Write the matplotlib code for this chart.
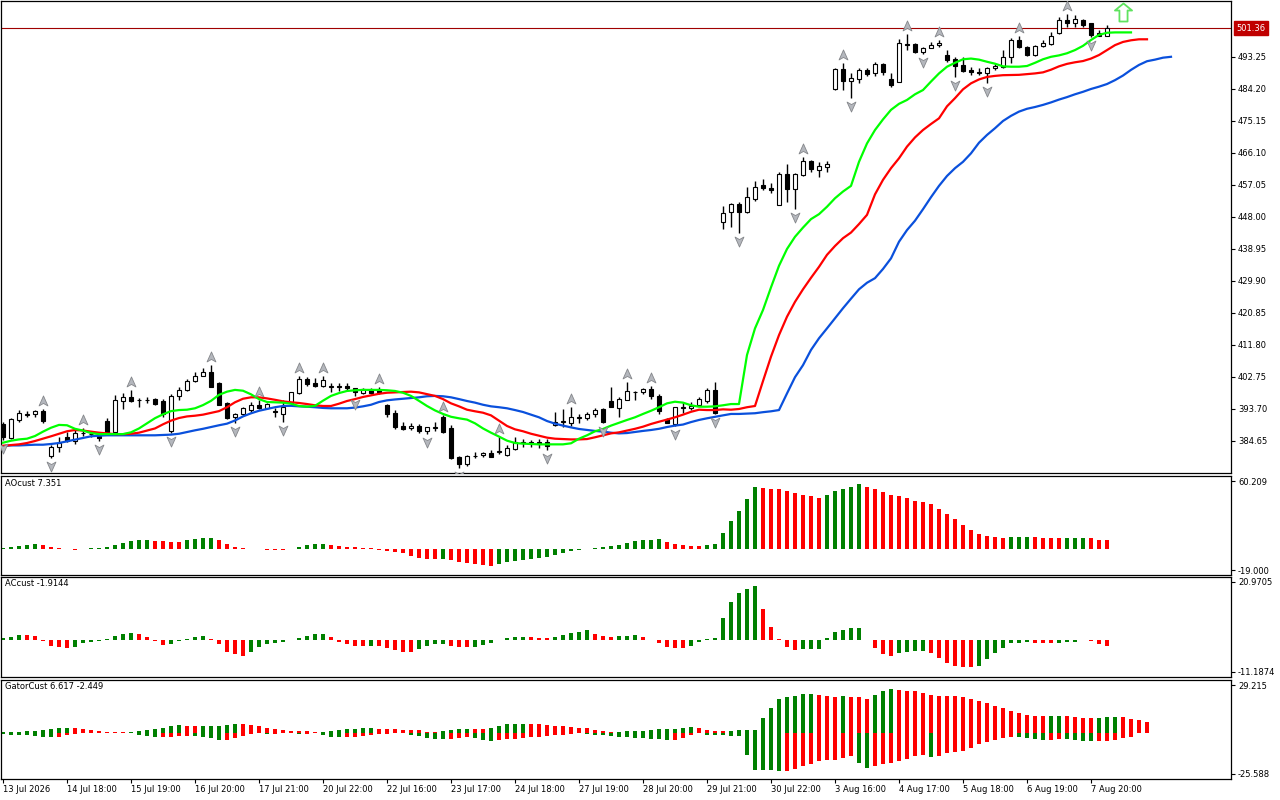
import numpy as np
import matplotlib
matplotlib.use("Agg")
import matplotlib.pyplot as plt
from matplotlib.path import Path
from matplotlib import transforms

# ---------------- data ----------------
opens = [389.46, 385.6, 390.59, 392.1, 392.3, 393.2, 380.5, 382.86, 385.7, 384.75,
         386.8, 386.5, 386.15, 390.3, 387.3, 396.05, 397.0, 396.2, 396.3, 396.5,
         395.96, 387.4, 397.4, 399.0, 401.5, 403.0, 404.2, 400.96, 395.3, 391.3,
         392.3, 393.4, 394.8, 394.1, 393.0, 392.3, 395.5, 398.1, 402.1, 401.1,
         400.2, 400.0, 400.1, 400.3, 399.5, 398.3, 399.1, 399.1, 394.8, 392.6,
         388.9, 388.3, 388.9, 387.6, 388.4, 391.35, 388.2, 380.0, 378.1, 380.3,
         380.7, 381.2, 381.6, 380.7, 382.5, 384.2, 384.3, 384.5, 384.3, 389.2,
         390.0, 389.7, 391.2, 391.05, 392.3, 393.6, 395.96, 394.05, 396.24, 398.5,
         398.6, 399.3, 397.4, 390.9, 389.4, 394.1, 393.9, 394.9, 395.96, 399.1,
         446.5, 449.4, 451.7, 449.4, 453.2, 457.0, 456.2, 451.4, 460.1, 455.8,
         459.8, 463.9, 461.3, 462.2, 484.2, 489.85, 486.55, 487.0, 489.6, 488.6,
         491.3, 487.0, 486.1, 496.8, 496.9, 494.75, 495.9, 496.65, 493.8, 492.6,
         491.0, 489.6, 489.1, 488.65, 490.05, 490.5, 493.15, 498.05, 496.15, 493.8,
         496.35, 496.9, 499.95, 503.7, 502.95, 503.7, 502.8, 500.0, 499.2]
highs = [390.0, 391.2, 393.42, 393.2, 393.4, 393.8, 383.5, 385.9, 387.3, 387.8,
         388.2, 387.2, 386.6, 391.07, 397.66, 398.3, 399.1, 396.9, 397.0, 396.8,
         396.4, 398.0, 400.0, 402.1, 404.2, 405.2, 406.1, 401.2, 395.6, 392.6,
         394.4, 395.6, 396.3, 395.5, 394.0, 396.2, 398.6, 403.0, 402.8, 402.5,
         402.9, 401.1, 401.1, 401.1, 399.5, 399.5, 399.5, 400.0, 395.0, 393.4,
         390.1, 389.7, 389.5, 388.5, 390.0, 391.9, 389.2, 380.4, 380.8, 381.6,
         381.6, 382.2, 385.9, 383.5, 385.7, 385.3, 385.0, 385.3, 385.3, 392.9,
         393.6, 394.3, 392.3, 392.9, 393.9, 393.9, 400.0, 397.2, 401.4, 398.8,
         399.5, 400.1, 397.9, 391.1, 394.4, 395.8, 395.8, 397.2, 399.6, 401.4,
         451.1, 452.05, 452.3, 456.4, 458.2, 458.7, 457.6, 460.6, 463.0, 460.35,
         464.9, 464.1, 463.6, 463.9, 490.1, 491.5, 488.8, 490.05, 490.05, 491.8,
         491.6, 488.8, 498.2, 499.7, 497.3, 496.2, 497.6, 497.95, 495.2, 493.2,
         493.2, 490.3, 490.05, 490.5, 491.3, 495.2, 498.5, 499.3, 496.4, 496.65,
         497.95, 500.2, 504.5, 505.4, 505.1, 504.1, 502.95, 500.9, 502.3]
lows = [385.0, 385.3, 390.11, 391.5, 391.5, 389.7, 379.8, 381.6, 384.5, 383.8,
        386.0, 385.9, 384.7, 387.0, 387.3, 393.6, 395.7, 394.2, 395.5, 394.7,
        391.5, 387.0, 396.2, 398.8, 401.2, 402.9, 400.0, 394.8, 390.8, 389.7,
        391.8, 392.5, 393.6, 393.8, 391.5, 390.0, 395.3, 397.9, 400.1, 399.8,
        399.9, 398.6, 398.9, 398.9, 397.5, 398.0, 397.8, 398.0, 391.5, 388.0,
        387.8, 387.8, 387.0, 386.5, 387.4, 387.0, 379.5, 377.0, 377.5, 379.8,
        380.1, 380.1, 381.0, 380.4, 382.2, 382.9, 382.9, 382.6, 382.0, 388.9,
        388.5, 389.0, 389.7, 390.7, 391.5, 389.8, 394.2, 391.35, 396.24, 396.24,
        397.9, 396.6, 392.3, 389.7, 388.8, 392.7, 393.3, 394.5, 395.3, 392.3,
        444.5, 445.25, 443.55, 449.05, 452.4, 455.55, 454.65, 451.4, 452.1, 450.2,
        459.6, 460.7, 459.3, 460.7, 483.9, 483.9, 481.6, 485.8, 487.9, 487.9,
        488.05, 484.65, 486.1, 495.1, 494.5, 494.2, 495.7, 496.2, 491.9, 487.5,
        488.9, 488.05, 488.05, 485.8, 489.6, 490.0, 491.6, 495.7, 493.4, 493.4,
        495.95, 496.6, 499.76, 501.6, 501.6, 501.8, 498.8, 499.1, 499.1]
closes = [385.7, 390.87, 392.48, 392.4, 393.1, 390.4, 382.9, 384.0, 384.65, 386.8,
          386.9, 386.6, 385.4, 387.3, 396.24, 397.2, 396.0, 396.3, 396.2, 395.1,
          392.3, 397.4, 399.1, 401.7, 403.0, 404.2, 400.0, 394.8, 391.1, 392.3,
          393.9, 394.8, 394.0, 395.0, 392.9, 394.4, 398.6, 402.1, 400.7, 400.15,
          401.9, 400.1, 400.0, 399.5, 398.6, 399.3, 398.2, 398.4, 392.3, 388.5,
          388.0, 388.9, 387.6, 388.5, 388.5, 387.3, 379.8, 378.1, 380.4, 380.5,
          381.3, 380.1, 381.8, 382.6, 384.3, 384.4, 384.2, 383.9, 383.2, 390.1,
          390.2, 391.35, 391.4, 392.3, 393.4, 390.0, 394.2, 396.5, 398.8, 398.6,
          399.3, 397.4, 393.0, 389.7, 394.2, 394.3, 394.5, 396.6, 399.1, 392.7,
          449.05, 451.6, 449.4, 453.55, 456.4, 456.2, 455.55, 460.1, 455.8, 460.1,
          463.9, 461.5, 462.3, 463.1, 489.85, 486.55, 487.2, 489.6, 488.45, 491.3,
          488.9, 485.3, 497.1, 496.6, 494.75, 495.7, 496.65, 497.3, 492.35, 490.8,
          489.3, 489.1, 488.8, 490.05, 490.7, 493.3, 498.05, 495.95, 493.8, 496.35,
          497.1, 499.19, 503.7, 502.95, 503.9, 502.3, 499.5, 499.2, 501.36]

lips = [384.17, 384.73, 385.1, 385.3, 386.06, 387.3, 388.4, 389.2, 389.1, 388.1,
        387.6, 386.9, 386.6, 386.6, 386.6, 386.6, 387.1, 388.2, 389.65, 391.1,
        392.2, 393.1, 393.4, 393.5, 393.9, 394.8, 396.0, 397.7, 398.6, 399.1,
        398.87, 397.85, 396.5, 395.68, 395.6, 395.5, 395.2, 394.55, 394.35, 394.6,
        396.05, 397.4, 398.2, 398.8, 398.99, 399.1, 399.1, 399.1, 399.0, 398.8,
        398.3, 397.4, 396.0, 394.55, 393.3, 392.3, 391.5, 391.07, 390.7, 389.65,
        388.2, 387.0, 385.9, 384.75, 384.08, 383.9, 383.8, 383.7, 383.7, 383.7,
        383.7, 384.0, 385.3, 386.26, 387.4, 388.05, 389.0, 389.8, 390.6, 391.35,
        392.3, 393.2, 394.2, 395.3, 395.76, 395.5, 394.75, 394.35, 394.35, 394.45,
        394.75, 395.1, 395.1, 408.97, 416.5, 421.7, 428.1, 434.2, 438.95, 442.4,
        445.0, 447.4, 448.8, 450.9, 453.3, 455.2, 456.8, 463.6, 468.8, 472.6,
        475.6, 478.3, 480.0, 481.1, 482.7, 483.9, 486.3, 488.6, 490.5, 491.6,
        492.6, 492.8, 492.5, 491.9, 491.35, 490.6, 490.5, 490.5, 490.7, 491.6,
        492.6, 493.3, 493.7, 494.3, 495.2, 496.4, 498.05, 499.5, 500.1, 500.2,
        500.2, 500.2]
teeth = [383.3, 383.5, 383.7, 384.08, 384.65, 385.3, 385.98, 386.7, 387.4, 387.76,
         387.6, 387.3, 387.0, 386.8, 386.6, 386.6, 386.7, 387.0, 387.6, 388.2,
         389.37, 390.4, 391.15, 391.6, 391.8, 392.1, 392.6, 393.1, 394.2, 395.6,
         396.6, 397.0, 397.0, 396.7, 396.3, 395.86, 395.6, 395.4, 395.1, 394.75,
         394.55, 394.55, 395.2, 395.96, 396.5, 397.1, 397.56, 398.0, 398.3, 398.4,
         398.5, 398.6, 398.4, 397.9, 397.4, 396.5, 395.3, 394.45, 393.5, 393.05,
         392.65, 391.9, 390.4, 388.9, 387.95, 387.4, 386.7, 386.15, 385.6, 385.3,
         385.2, 385.1, 385.1, 385.2, 385.7, 386.26, 386.8, 387.1, 387.6, 388.1,
         388.7, 389.46, 390.1, 390.7, 391.35, 392.1, 392.9, 393.5, 393.4, 393.4,
         393.6, 393.5, 393.7, 394.2, 394.55, 401.6, 408.5, 414.6, 419.8, 424.0,
         427.55, 430.8, 433.9, 437.3, 439.8, 442.0, 443.6, 446.0, 448.6, 454.4,
         458.5, 461.8, 464.6, 467.9, 470.5, 472.6, 474.3, 475.9, 479.3, 481.6,
         484.1, 485.8, 486.9, 487.6, 487.9, 488.1, 488.15, 488.2, 488.4, 488.6,
         488.9, 489.65, 490.6, 491.3, 491.75, 492.1, 492.8, 493.8, 495.2, 496.6,
         497.5, 497.97, 498.25, 498.25]
jaw = [383.2, 383.4, 383.4, 383.5, 383.6, 383.6, 383.8, 384.08, 384.55, 385.0,
       385.5, 385.98, 386.15, 386.26, 386.26, 386.26, 386.26, 386.26, 386.26, 386.26,
       386.35, 386.45, 386.7, 387.2, 387.67, 388.1, 388.6, 389.1, 389.55, 390.45,
       391.6, 392.48, 393.2, 393.7, 394.2, 394.55, 394.6, 394.45, 394.35, 394.2,
       394.0, 393.9, 393.9, 393.9, 394.1, 394.45, 394.9, 395.68, 396.15, 396.4,
       396.6, 396.8, 397.0, 397.3, 397.4, 397.3, 397.0, 396.5, 395.96, 395.5,
       394.9, 394.45, 394.2, 393.9, 393.4, 392.85, 392.1, 391.35, 390.3, 389.55,
       389.0, 388.5, 388.05, 387.76, 387.5, 387.3, 387.0, 386.8, 386.9, 387.2,
       387.5, 387.76, 388.1, 388.6, 389.0, 389.3, 390.0, 390.6, 391.07, 391.5,
       391.9, 392.3, 392.3, 392.4, 392.5, 392.8, 393.05, 393.4, 398.1, 402.7,
       406.1, 410.4, 413.7, 416.5, 419.35, 422.2, 424.9, 427.55, 429.4, 430.7,
       433.3, 436.3, 441.0, 444.3, 446.95, 450.2, 453.6, 456.8, 459.6, 461.8,
       463.6, 466.0, 469.0, 471.2, 473.1, 475.15, 476.6, 477.8, 478.6, 479.1,
       479.7, 480.4, 481.2, 481.9, 482.7, 483.4, 484.2, 484.85, 485.6, 486.7,
       488.0, 489.6, 491.0, 492.05, 492.5, 493.05, 493.3]

ao = [0.8, 1.6, 2.6, 3.3, 3.9,
      3.0, 1.6, 0.5, -0.2, -0.9,
      -0.5, 0.3, 0.9, 1.8, 3.3, 5.2, 6.8, 7.9, 8.1,
      7.2, 6.4, 6.1, 5.9,
      7.6, 8.8, 9.7, 9.8,
      8.0, 4.0, 1.6, 0.3, -0.3, -0.6, -0.8, -0.9, -1.0,
      -0.5, 1.3, 3.1, 4.2, 4.4,
      2.95, 2.35, 1.76, 1.17, 0.87, 0.57, -1.2, -2.1, -3.3, -4.2, -6.5, -8.0, -8.9, -9.5,
      -9.3,
      -10.1, -11.6, -12.9, -14.0, -14.8, -15.1,
      -13.4, -12.3, -11.0, -9.8, -8.9, -8.2, -7.0, -5.5, -3.8, -2.3, -1.2, -0.1, 0.8,
      1.6, 2.5, 3.6, 5.2, 6.7, 7.8, 8.1, 8.2,
      6.0, 4.2, 3.0, 2.4, 2.3,
      3.3, 4.4, 14.2, 24.6, 33.5, 43.9, 54.9,
      54.0, 53.4, 52.8, 51.0, 49.8, 48.0, 46.9, 45.4,
      48.0, 51.0, 52.8, 54.9, 57.5,
      55.2, 52.8, 50.7, 47.7, 46.6, 45.1, 42.7, 41.5, 39.4, 35.0, 30.5, 26.7, 20.7,
      16.6, 12.7, 11.3, 10.4, 9.8,
      10.0, 10.3, 10.5, 10.2, 9.9, 9.6, 9.4, 9.6, 9.8, 9.9, 9.3, 8.0, 7.351]

ac = [0.9, 1.3, 1.9, 1.8, 1.7, -0.2, -1.8, -2.2, -2.7, -2.3,
      -0.8, -0.4, -0.1, 0.6, 1.5, 2.2, 2.7, 2.2, 1.2, -0.3,
      -1.5, -1.3, -0.2, 0.4, 1.1, 1.7, 0.4, -1.4, -4.1, -4.9,
      -5.6, -4.3, -2.3, -1.1, -0.9, -0.5, 0.1, 0.9, 1.7, 2.3,
      2.4, 1.1, -0.4, -1.2, -1.8, -1.9, -1.8, -2.0, -2.6, -3.4,
      -4.1, -4.3, -3.1, -2.1, -1.4, -1.1, -1.8, -2.3, -2.5, -2.4,
      -1.6, -0.9, 0.2, 0.8, 1.3, 1.4, 1.1, 0.9, 0.8, 1.2,
      1.9, 2.8, 3.1, 3.6, 2.2, 1.6, 1.2, 1.5, 1.6, 1.8,
      1.2, 0.1, -0.8, -2.2, -2.6, -2.8, -1.8, -0.6, 0.5, 0.9,
      8.2, 13.9, 17.1, 18.5, 19.5, 11.4, 4.9, 0.6, -2.2, -3.3,
      -3.2, -3.1, -3.0, 0.9, 2.9, 3.8, 4.4, 4.5, 0.0, -2.6,
      -5.0, -5.6, -4.4, -4.1, -3.9, -3.8, -4.4, -6.2, -8.2, -9.1,
      -9.4, -9.5, -9.3, -6.8, -4.6, -2.6, -1.0, -0.8, -0.7, -0.8,
      -0.9, -1.0, -0.8, -0.6, -0.5, 0.3, -0.2, -1.3, -1.9144]

gator_up = [0.2, 0.3, 0.5, 0.8, 1.2, 1.8, 2.3, 2.7, 2.9, 2.7,
            2.1, 1.4, 0.9, 0.6, 0.4, 0.35, 0.45, 0.8, 1.4, 2.0,
            3.0, 3.9, 4.4, 4.3, 4.1, 4.15, 4.2, 4.3, 4.7, 5.2,
            5.0, 4.5, 3.8, 3.0, 2.1, 1.3, 1.0, 0.95, 0.75, 0.55,
            0.6, 0.7, 1.3, 2.1, 2.4, 2.65, 2.7, 2.3, 2.15, 2.0,
            1.9, 1.8, 1.4, 0.6, 0.1, 0.8, 1.7, 2.05, 2.45, 2.4,
            2.25, 2.55, 3.8, 5.0, 5.45, 5.5, 5.4, 5.2, 4.7, 4.25,
            3.8, 3.4, 2.95, 2.55, 1.8, 1.05, 0.2, 0.3, 0.7, 0.9,
            1.2, 1.7, 2.0, 2.1, 2.35, 2.8, 3.3, 2.9, 1.65, 1.0,
            0.95, 1.1, 1.65, 1.75, 1.8, 9.1, 15.2, 20.8, 22.0, 22.9,
            23.9, 24.0, 23.5, 22.9, 22.2, 22.3, 22.2, 21.8, 20.8, 23.5,
            25.75, 27.0, 26.4, 25.75, 25.5, 24.3, 23.5, 22.9, 22.7, 22.6,
            22.0, 20.8, 19.6, 18.3, 16.7, 15.2, 13.4, 12.2, 11.1, 10.3,
            10.2, 10.3, 10.35, 10.3, 9.7, 9.1, 9.05, 9.1, 9.7, 9.75,
            9.7, 8.4, 7.8, 6.617]
gator_down = [-0.9, -1.2, -1.5, -1.7, -2.0, -2.6, -2.8, -2.6, -1.8, -0.6,
              -0.2, -0.4, -0.4, -0.2, -0.1, -0.1, -0.4, -1.2, -2.0, -2.9,
              -2.8, -2.7, -2.3, -1.9, -2.1, -2.7, -3.4, -4.6, -4.4, -3.5,
              -2.3, -0.9, -0.5, -1.0, -0.7, -0.4, -0.45, -0.85, -0.75, -0.2,
              -1.5, -2.85, -3.0, -2.8, -2.5, -2.0, -1.5, -1.1, -0.7, -0.4,
              -0.2, -1.2, -2.4, -3.35, -4.1, -4.2, -3.8, -3.4, -2.8, -3.4,
              -4.45, -4.9, -4.5, -4.15, -3.9, -3.5, -2.9, -2.45, -1.9, -1.6,
              -1.5, -1.1, -0.3, -1.05, -1.7, -1.8, -2.2, -2.7, -3.0, -3.25,
              -3.6, -3.75, -4.1, -4.6, -4.4, -3.4, -1.2, -0.4, -1.2, -1.25,
              -1.3, -1.9, -1.95, -13.8, -22.9, -23.0, -23.1, -23.7, -23.5, -22.5,
              -20.4, -19.4, -17.3, -17.2, -16.7, -15.7, -14.2, -18.5, -21.6, -20.4,
              -19.4, -18.5, -17.3, -16.5, -14.2, -13.6, -14.8, -14.2, -12.6, -11.7,
              -11.1, -9.5, -7.0, -5.6, -4.5, -3.3, -2.5, -2.55, -3.3, -3.9,
              -4.5, -4.3, -3.9, -4.0, -4.5, -5.2, -5.4, -5.3, -5.1, -4.3,
              -3.3, -2.449]

fractal_up = [5, 10, 16, 26, 32, 37, 40, 47, 55, 62, 71, 78, 81, 100, 105, 113, 117, 127, 133]
fractal_down = [0, 6, 12, 21, 29, 35, 44, 53, 57, 68, 75, 84, 89, 92, 99, 106, 115, 119, 123, 136]

signal_bar = 140
signal_price = 506.0
last_price = 501.36

price_ticks = [384.65, 393.70, 402.75, 411.80, 420.85, 429.90, 438.95,
               448.00, 457.05, 466.10, 475.15, 484.20, 493.25]
time_labels = ["13 Jul 2026", "14 Jul 18:00", "15 Jul 19:00", "16 Jul 20:00",
               "17 Jul 21:00", "20 Jul 22:00", "22 Jul 16:00", "23 Jul 17:00",
               "24 Jul 18:00", "27 Jul 19:00", "28 Jul 20:00", "29 Jul 21:00",
               "30 Jul 22:00", "3 Aug 16:00", "4 Aug 17:00", "5 Aug 18:00",
               "6 Aug 19:00", "7 Aug 20:00"]
ao_ticks = [60.209, -19.000]
ao_tick_labels = ["60.209", "-19.000"]
ac_ticks = [20.9705, -11.1874]
ac_tick_labels = ["20.9705", "-11.1874"]
gator_ticks = [29.215, -25.588]
gator_tick_labels = ["29.215", "-25.588"]
ao_title = "AOcust 7.351"
ac_title = "ACcust -1.9144"
gator_title = "GatorCust 6.617 -2.449"

# ---------------- style ----------------
GREEN = "#008000"
RED = "#ff0000"
LIME = "#00ff00"
BLUE = "#0a50dc"
FS = 6

W, H = 1280, 800
fig = plt.figure(figsize=(W / 100, H / 100), dpi=100)
fig.patch.set_facecolor("white")


def frac(x0, y0, x1, y1):
    return [x0 / W, 1 - y1 / H, (x1 - x0) / W, (y1 - y0) / H]


ax = fig.add_axes(frac(1, 1, 1231, 473))
ax_ao = fig.add_axes(frac(1, 476, 1231, 575))
ax_ac = fig.add_axes(frac(1, 577, 1231, 677))
ax_g = fig.add_axes(frac(1, 679.5, 1231, 779))

XL = (-0.25, 153.5)
for a in (ax, ax_ao, ax_ac, ax_g):
    a.set_xlim(*XL)
    for s in a.spines.values():
        s.set_linewidth(0.9)
        s.set_color("black")
    a.yaxis.tick_right()
    a.tick_params(axis="y", direction="out", length=3, width=0.8,
                  labelsize=FS, pad=2)
    a.set_facecolor("white")

# ---------------- main price panel ----------------
o = np.array(opens); h = np.array(highs); l = np.array(lows); c = np.array(closes)
n = len(o)
x = np.arange(n)
bull = c >= o
ax.vlines(x, l, h, color="black", linewidth=1.0, zorder=2)
ax.bar(x, np.maximum(np.abs(c - o), 0.02), bottom=np.minimum(o, c), width=0.6,
       color=np.where(bull, "white", "black"), edgecolor="black",
       linewidth=0.8, zorder=3)

ax.plot(np.arange(len(jaw)), jaw, color=BLUE, lw=1.6, zorder=4)
ax.plot(np.arange(len(teeth)), teeth, color=RED, lw=1.6, zorder=4)
ax.plot(np.arange(len(lips)), lips, color=LIME, lw=1.6, zorder=4)

ax.axhline(last_price, color="#a00000", lw=0.8, zorder=1)

# fractal arrows
up_path = Path([(0, 1), (0.8, -0.8), (0, -0.35), (-0.8, -0.8), (0, 1)],
               [Path.MOVETO, Path.LINETO, Path.LINETO, Path.LINETO, Path.CLOSEPOLY])
dn_path = Path([(0, -1), (0.8, 0.8), (0, 0.35), (-0.8, 0.8), (0, -1)],
               [Path.MOVETO, Path.LINETO, Path.LINETO, Path.LINETO, Path.CLOSEPOLY])
t_up = transforms.offset_copy(ax.transData, fig=fig, x=0, y=8, units="dots")
t_dn = transforms.offset_copy(ax.transData, fig=fig, x=0, y=-8, units="dots")
fu = np.array(fractal_up); fd = np.array(fractal_down)
ax.plot(fu, h[fu], linestyle="none", marker=up_path, ms=8, mfc="#b4b7bd",
        mec="#84868a", mew=0.6, transform=t_up, zorder=5)
ax.plot(fd, l[fd], linestyle="none", marker=dn_path, ms=8, mfc="#b4b7bd",
        mec="#84868a", mew=0.6, transform=t_dn, zorder=5)

# signal arrow
sig_path = Path([(0, 1), (0.95, 0.22), (0.45, 0.22), (0.45, -1), (-0.45, -1),
                 (-0.45, 0.22), (-0.95, 0.22), (0, 1)],
                [Path.MOVETO] + [Path.LINETO] * 6 + [Path.CLOSEPOLY])
ax.plot([signal_bar], [signal_price], linestyle="none", marker=sig_path, ms=13,
        mfc="white", mec="#5fe35f", mew=1.3, zorder=6)

ax.set_ylim(375.60, 509.08)
ax.set_xticks([])
ax.set_yticks(price_ticks)
ax.set_yticklabels([f"{v:.2f}" for v in price_ticks])

btrans = transforms.blended_transform_factory(ax.transAxes, ax.transData)
ax.text(1.0045, last_price, f"{last_price:.2f}", transform=btrans, ha="left",
        va="center", fontsize=FS, color="white", clip_on=False, zorder=10,
        bbox=dict(boxstyle="square,pad=0.3", fc="#c00000", ec="#c00000"))


# ---------------- oscillators ----------------
def trend_colors(vals):
    v = np.asarray(vals)
    col = [GREEN]
    for i in range(1, len(v)):
        col.append(GREEN if v[i] > v[i - 1] else RED)
    return col


def abs_trend_colors(vals):
    v = np.abs(np.asarray(vals))
    col = [GREEN]
    for i in range(1, len(v)):
        col.append(GREEN if v[i] > v[i - 1] else RED)
    return col


ax_ao.bar(np.arange(len(ao)), ao, width=0.45, color=trend_colors(ao), linewidth=0)
ax_ao.set_ylim(-23.45, 64.66)
ax_ao.set_xticks([])
ax_ao.set_yticks(ao_ticks)
ax_ao.set_yticklabels(ao_tick_labels)
ax_ao.text(4 / 1230, 1 - 7 / 99, ao_title, transform=ax_ao.transAxes,
           fontsize=FS, va="center", ha="left")

ax_ac.bar(np.arange(len(ac)), ac, width=0.45, color=trend_colors(ac), linewidth=0)
ax_ac.set_ylim(-13.09, 22.76)
ax_ac.set_xticks([])
ax_ac.set_yticks(ac_ticks)
ax_ac.set_yticklabels(ac_tick_labels)
ax_ac.text(4 / 1230, 1 - 7 / 100, ac_title, transform=ax_ac.transAxes,
           fontsize=FS, va="center", ha="left")

ax_g.bar(np.arange(len(gator_up)), gator_up, width=0.5,
         color=trend_colors(gator_up), linewidth=0)
ax_g.bar(np.arange(len(gator_down)), gator_down, width=0.5,
         color=abs_trend_colors(gator_down), linewidth=0)
ax_g.set_ylim(-28.68, 32.8)
ax_g.set_yticks(gator_ticks)
ax_g.set_yticklabels(gator_tick_labels)
ax_g.text(4 / 1230, 1 - 7 / 99.5, gator_title, transform=ax_g.transAxes,
          fontsize=FS, va="center", ha="left")

tick_pos = np.arange(len(time_labels)) * 8
ax_g.set_xticks(tick_pos)
ax_g.set_xticklabels(time_labels, ha="left")
ax_g.tick_params(axis="x", direction="out", length=3, width=0.8,
                 labelsize=FS, pad=1.5)

fig.savefig("out.png", dpi=100)
